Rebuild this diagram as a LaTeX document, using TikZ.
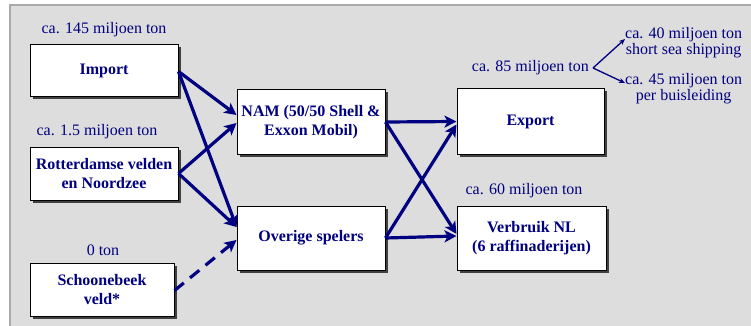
\documentclass[tikz,border=0pt]{standalone}
\usepackage{fontspec}
\setmainfont{Liberation Serif}
\usetikzlibrary{arrows.meta,shadows}
\definecolor{navy}{RGB}{0,0,128}
\definecolor{bgray}{RGB}{221,221,221}
\definecolor{bline}{RGB}{170,170,170}
\tikzset{
  box/.style={draw=black, line width=1pt, fill=white, text=navy,
    font=\fontsize{16}{18.5}\selectfont\bfseries, align=center, inner sep=0pt,
    drop shadow={shadow xshift=2.5pt, shadow yshift=-2.5pt, fill=black!75, opacity=1}},
  lbl/.style={text=navy, font=\fontsize{16}{16}\selectfont, align=center, inner sep=0pt},
  flow/.style={draw=navy, line width=3.2pt, -{Stealth[length=12pt,width=12pt,inset=3pt]}},
  thin/.style={draw=navy, line width=1.3pt, -{Stealth[length=6pt,width=5pt]}}
}
\begin{document}
\begin{tikzpicture}[x=1pt,y=-1pt]
\useasboundingbox (0,0) rectangle (751,326);
\fill[bgray] (10,5) rectangle (770,340);
\draw[bline, line width=1.2pt] (10,340) -- (10,5) -- (770,5);
% boxes
\node[box, minimum width=148pt, minimum height=52pt] (imp) at (104,70.5) {Import};
\node[box, minimum width=148pt, minimum height=53pt] (rot) at (104,173.5) {Rotterdamse velden\\en Noordzee};
\node[box, minimum width=144pt, minimum height=53pt] (sch) at (102,289.5) {Schoonebeek\\veld*};
\node[box, minimum width=148pt, minimum height=64pt] (nam) at (311,122) {NAM (50/50 Shell \&\\Exxon Mobil)};
\node[box, minimum width=148pt, minimum height=64pt] (ove) at (311,238) {Overige spelers};
\node[box, minimum width=147pt, minimum height=65pt] (exp) at (530.5,121.5) {Export};
\node[box, minimum width=149pt, minimum height=64pt] (ver) at (531.5,238) {Verbruik NL\\(6 raffinaderijen)};
% labels
\node[lbl] (l145) at (104,30) {ca. 145 miljoen ton};
\node[lbl] (l15) at (97,132) {ca. 1.5 miljoen ton};
\node[lbl] (l0) at (103,250) {0 ton};
\node[lbl, anchor=east] (l85) at (589,68) {ca. 85 miljoen ton};
\node[lbl] (l60) at (524,191) {ca. 60 miljoen ton};
\node[lbl, anchor=west] (l40) at (625,43) {ca. 40 miljoen ton\\short sea shipping};
\node[lbl, anchor=west] (l45) at (625,89) {ca. 45 miljoen ton\\per buisleiding};
\coordinate (split) at (593,68);
% flows
\draw[flow] ([yshift=-1pt]imp.east) -- ([yshift=7pt]nam.west);
\draw[flow] ([yshift=-1pt]imp.east) -- ([yshift=11pt]ove.west);
\draw[flow] (rot.east) -- ([yshift=-1pt]nam.west);
\draw[flow] (rot.east) -- ([yshift=11pt]ove.west);
\draw[flow, dashed, dash pattern=on 12pt off 8pt] ([yshift=-1pt]sch.east) -- ([yshift=-2pt]ove.west);
\draw[flow] (nam.east) -- ([yshift=0pt]exp.west);
\draw[flow] (nam.east) -- ([yshift=4pt]ver.west);
\draw[flow] (ove.east) -- ([yshift=-3pt]exp.west);
\draw[flow] (ove.east) -- ([yshift=2pt]ver.west);
\draw[thin] (split) -- ([yshift=4pt]l40.west);
\draw[thin] (split) -- ([yshift=6pt]l45.west);
\end{tikzpicture}
\end{document}
